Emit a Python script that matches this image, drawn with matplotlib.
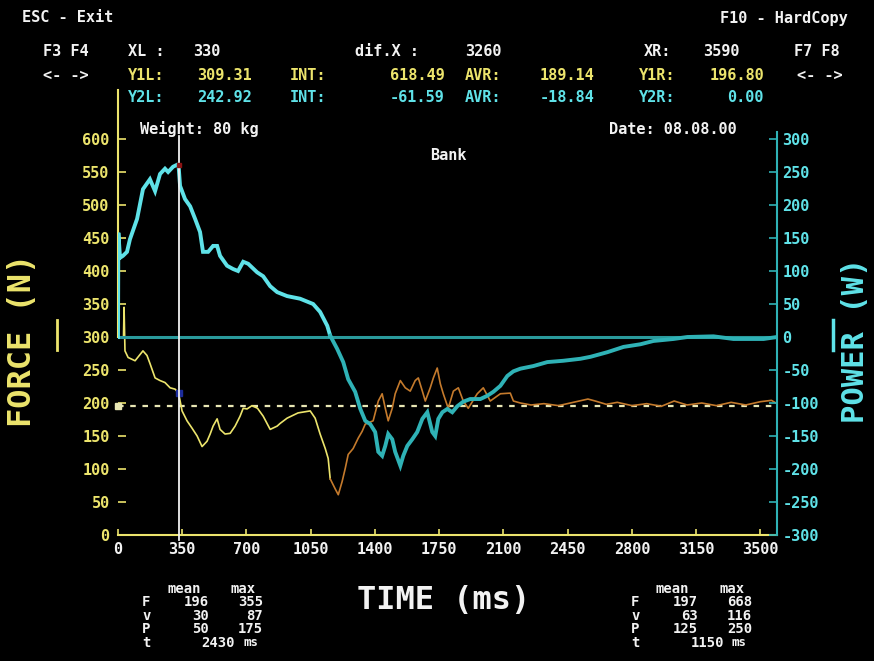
import numpy as np
import matplotlib
matplotlib.use("Agg")
import matplotlib.pyplot as plt

# force trace (N) against time (ms)
force_ms = [0, 30, 33, 38, 55, 93, 136, 158, 174, 202,
            229, 256, 284, 311, 330, 349, 376, 403, 431, 458,
            485, 502, 518, 540, 556, 583, 611, 638, 665, 682,
            703, 730, 760, 791, 829, 867, 883, 921, 981, 1047,
            1074, 1101, 1129, 1145, 1156, 1183, 1200, 1221, 1238, 1254,
            1281, 1309, 1330, 1347, 1390, 1418, 1439, 1456, 1472, 1494,
            1510, 1538, 1565, 1592, 1619, 1636, 1658, 1674, 1701, 1718,
            1739, 1756, 1772, 1799, 1827, 1854, 1881, 1908, 1957, 1990,
            2028, 2083, 2137, 2154, 2192, 2250, 2320, 2400, 2480, 2560,
            2600, 2660, 2720, 2800, 2880, 2960, 3030, 3100, 3180, 3260,
            3340, 3420, 3500, 3560, 3590]
force_n = [300, 300, 345, 279, 269, 264, 279, 272, 260, 238,
           234, 231, 223, 221, 215, 188, 173, 162, 150, 134,
           142, 153, 165, 176, 160, 153, 154, 165, 180, 192,
           191, 196, 192, 180, 160, 165, 169, 177, 185, 188,
           177, 153, 131, 116, 85, 70, 61, 81, 101, 122,
           131, 147, 157, 168, 173, 203, 214, 192, 173, 192,
           214, 234, 223, 218, 234, 238, 218, 203, 223, 238,
           253, 229, 214, 192, 218, 223, 203, 192, 214, 223,
           203, 214, 215, 203, 200, 197, 199, 196, 201, 206,
           203, 198, 201, 196, 199, 195, 203, 197, 200, 196,
           201, 197, 202, 204, 199]

# power trace (W) against time (ms)
power_ms = [0, 2, 11, 27, 49, 65, 104, 136, 174, 202,
            229, 256, 273, 300, 322, 330, 338, 365, 393, 420,
            447, 463, 491, 518, 540, 556, 594, 627, 654, 682,
            709, 758, 791, 829, 867, 921, 992, 1063, 1101, 1140,
            1156, 1194, 1227, 1254, 1292, 1320, 1347, 1374, 1401, 1418,
            1439, 1456, 1472, 1494, 1510, 1538, 1554, 1576, 1603, 1630,
            1658, 1685, 1712, 1728, 1745, 1767, 1794, 1821, 1848, 1881,
            1919, 1974, 2012, 2045, 2083, 2121, 2154, 2192, 2263, 2339,
            2426, 2519, 2574, 2666, 2754, 2846, 2917, 3026, 3102, 3244,
            3353, 3517, 3590]
power_w = [0, 158, 120, 123, 129, 148, 179, 224, 239, 221,
           247, 255, 250, 258, 261, 260, 229, 209, 198, 179,
           159, 129, 129, 138, 138, 123, 108, 103, 100, 114,
           111, 98, 92, 77, 68, 62, 58, 50, 38, 17,
           2, -18, -38, -64, -83, -109, -127, -132, -144, -174,
           -180, -165, -147, -155, -174, -195, -180, -165, -155, -144,
           -124, -114, -144, -150, -124, -114, -109, -114, -105, -98,
           -94, -94, -89, -83, -74, -59, -52, -48, -44, -38,
           -36, -33, -30, -23, -15, -11, -6, -3, 0, 1,
           -3, -3, 0]

phase_end_ms = 1156
cursor_left_ms = 330
cursor_right_ms = 3590
mean_force_n = 196

time_ticks = np.arange(0, 3501, 350)
force_ticks = np.arange(0, 601, 50)
power_ticks = np.arange(-300, 301, 50)

stats_left = [("F", "196", "355"), ("v", "30", "87"), ("P", "50", "175")]
stats_right = [("F", "197", "668"), ("v", "63", "116"), ("P", "125", "250")]
duration_left = "2430"
duration_right = "1150"

YELLOW = "#ece46c"
CYAN = "#5fe2e8"
TEAL = "#2fb2b6"
ZERO = "#2a9a9c"
ORANGE = "#c47a2c"
WHITE = "#f2f2f2"
MONO = "DejaVu Sans Mono"

W, H = 874, 661
fig = plt.figure(figsize=(W / 100, H / 100), dpi=100, facecolor="black")


def put(x, y, s, color=WHITE, size=11, ha="left", **kw):
    # place text by screen pixel (origin top-left)
    fig.text(x / W, 1 - y / H, s, color=color, fontsize=size, ha=ha,
             va="center", family=MONO, weight="bold", **kw)


ax = fig.add_axes([118 / W, 126 / H, 659 / W, 402.6 / H])
ax.set_facecolor("black")
ax.set_xlim(0, 3590)
ax.set_ylim(0, 610)
ax2 = ax.twinx()
ax2.set_ylim(-300, 310)

for a in (ax, ax2):
    for side in ("top", "left", "right", "bottom"):
        a.spines[side].set_visible(False)
ax.spines["bottom"].set_visible(True)
ax.spines["bottom"].set_color(YELLOW)
ax.spines["bottom"].set_linewidth(1.5)
ax.spines["left"].set_visible(True)
ax.spines["left"].set_color(YELLOW)
ax.spines["left"].set_linewidth(1.5)
ax.spines["left"].set_bounds(300, 674)
ax2.spines["right"].set_visible(True)
ax2.spines["right"].set_color(TEAL)
ax2.spines["right"].set_linewidth(1.5)

ax.set_xticks(time_ticks)
ax.set_xticklabels([str(t) for t in time_ticks])
ax.set_yticks(force_ticks)
ax.set_yticklabels([str(f) for f in force_ticks])
ax2.set_yticks(power_ticks)
ax2.set_yticklabels([str(p) for p in power_ticks])

ax.tick_params(axis="x", direction="in", length=4, width=1.2, color=YELLOW,
               labelcolor=WHITE, pad=5)
ax.tick_params(axis="y", direction="in", length=6, width=1.2, color=YELLOW,
               labelcolor=YELLOW, pad=6)
ax2.tick_params(axis="y", direction="in", length=6, width=1.2, color=TEAL,
                labelcolor=CYAN, pad=4)
for lab in ax.get_xticklabels() + ax.get_yticklabels() + ax2.get_yticklabels():
    lab.set_family(MONO)
    lab.set_weight("bold")
    lab.set_fontsize(11)

# force: first phase yellow, second phase orange
f_t = np.array(force_ms)
f_v = np.array(force_n)
first = f_t <= phase_end_ms
second = f_t >= phase_end_ms
ax.plot(f_t[first], f_v[first], color=YELLOW, lw=1.2, zorder=3)
ax.plot(f_t[second], f_v[second], color=ORANGE, lw=1.2, zorder=3)
ax.axhline(mean_force_n, color="#e8e6b4", lw=1.6, ls=(0, (2.5, 3)), zorder=2)
ax.plot([0], [mean_force_n], marker="s", ms=4, color="#e8e6b4", clip_on=False)

# power with its zero line
p_t = np.array(power_ms)
p_v = np.array(power_w)
ax2.axhline(0, color=ZERO, lw=2.2, zorder=1)
ax2.plot(p_t[p_t <= phase_end_ms], p_v[p_t <= phase_end_ms], color=CYAN,
         lw=2.8, zorder=3, solid_joinstyle="miter")
ax2.plot(p_t[p_t >= phase_end_ms], p_v[p_t >= phase_end_ms], color=TEAL,
         lw=2.8, zorder=3, solid_joinstyle="miter")

# left cursor with its readout points
ax2.axvline(cursor_left_ms, ymin=-0.012, ymax=0.99, color=WHITE, lw=1.3,
            zorder=5, clip_on=False)
ax2.plot(cursor_left_ms, np.interp(cursor_left_ms, p_t, p_v),
         marker="s", ms=3, color="#8a1414", zorder=6)
ax.plot(cursor_left_ms, np.interp(cursor_left_ms, f_t, f_v), marker="s",
        ms=4, color="#1c2c9a", zorder=6)

# axis titles and legend bars
put(23, 340, "FORCE (N)", color=YELLOW, size=23, ha="center", rotation=90)
put(856, 340, "POWER (W)", color=CYAN, size=22, ha="center", rotation=90)
fig.add_artist(plt.Line2D([57 / W, 57 / W], [1 - 320 / H, 1 - 350 / H],
                          color=YELLOW, lw=2))
fig.add_artist(plt.Line2D([833 / W, 833 / W], [1 - 320 / H, 1 - 350 / H],
                          color=CYAN, lw=2.5))
put(444, 600, "TIME (ms)", size=23, ha="center")

# screen header
put(22, 18, "ESC - Exit")
put(720, 18, "F10 - HardCopy")
put(43, 52, "F3 F4")
put(128, 52, "XL :")
put(220, 52, str(cursor_left_ms), ha="right")
put(355, 52, "dif.X :")
put(502, 52, str(cursor_right_ms - cursor_left_ms), ha="right")
put(644, 52, "XR:")
put(740, 52, str(cursor_right_ms), ha="right")
put(794, 52, "F7 F8")

put(43, 75, "<- ->")
put(797, 75, "<- ->")
for row_y, color, vals in ((75, YELLOW, ("Y1L:", "309.31", "618.49", "189.14", "Y1R:", "196.80")),
                           (98, CYAN, ("Y2L:", "242.92", "-61.59", "-18.84", "Y2R:", "0.00"))):
    put(128, row_y, vals[0], color=color)
    put(252, row_y, vals[1], color=color, ha="right")
    put(290, row_y, "INT:", color=color)
    put(445, row_y, vals[2], color=color, ha="right")
    put(465, row_y, "AVR:", color=color)
    put(594, row_y, vals[3], color=color, ha="right")
    put(639, row_y, vals[4], color=color)
    put(764, row_y, vals[5], color=color, ha="right")

put(140, 129, "Weight: 80 kg")
put(609, 129, "Date: 08.08.00")
put(448, 156, "Bank", ha="center")

# summary blocks under the axis
for x0, rows, dur in ((142, stats_left, duration_left),
                      (631, stats_right, duration_right)):
    put(x0 + 25, 589, "mean", size=10)
    put(x0 + 89, 589, "max", size=10)
    for i, (name, mean, peak) in enumerate(rows):
        y = 602 + i * 13.5
        put(x0, y, name, size=10)
        put(x0 + 67, y, mean, size=10, ha="right")
        put(x0 + 121, y, peak, size=10, ha="right")
    put(x0, 643, "t", size=10)
    put(x0 + 93, 643, dur, size=10, ha="right")
    put(x0 + 101, 643, "ms", size=9)

fig.savefig("out.png", dpi=100, facecolor="black")
